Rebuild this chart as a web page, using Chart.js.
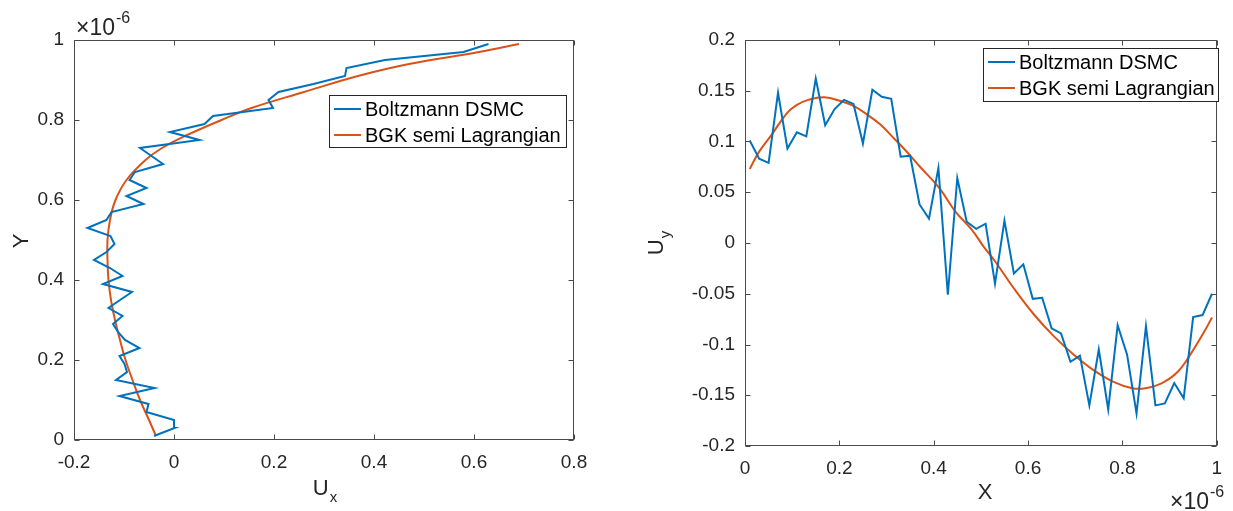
<!DOCTYPE html>
<html>
<head>
<meta charset="utf-8">
<script src="https://cdn.jsdelivr.net/npm/chart.js@4.4.1/dist/chart.umd.min.js"></script>
<style>
  body { margin: 0; background: #fff; }
  canvas { position: absolute; top: 0; }
</style>
</head>
<body>
<canvas id="left" width="616" height="511" style="left:0"></canvas>
<canvas id="right" width="617" height="511" style="left:616px"></canvas>
<script>
(function () {
    "use strict";

    const FONT = '"Liberation Sans", Arial, Helvetica, sans-serif';
    const INK = "#262626";
    const BLUE = "#0072BD";
    const RED = "#D95319";

    const seriesLabels = ["Boltzmann DSMC", "BGK semi Lagrangian"];

    // left panel: U_x against Y (Y in units of 1e-6)
    const leftY = [
        0.01, 0.03, 0.05, 0.07, 0.09, 0.11, 0.13, 0.15, 0.17, 0.19,
        0.21, 0.23, 0.25, 0.27, 0.29, 0.31, 0.33, 0.35, 0.37, 0.39,
        0.41, 0.43, 0.45, 0.47, 0.49, 0.51, 0.53, 0.55, 0.57, 0.59,
        0.61, 0.63, 0.65, 0.67, 0.69, 0.71, 0.73, 0.75, 0.77, 0.79,
        0.81, 0.83, 0.85, 0.87, 0.89, 0.91, 0.93, 0.95, 0.97, 0.99,
    ];
    const leftDsmcUx = [
        -0.040, 0.001, 0.000, -0.055, -0.051, -0.109, -0.039, -0.116, -0.094, -0.099,
        -0.109, -0.069, -0.098, -0.112, -0.122, -0.103, -0.131, -0.108, -0.084, -0.142,
        -0.103, -0.128, -0.160, -0.135, -0.119, -0.127, -0.173, -0.135, -0.125, -0.061,
        -0.095, -0.055, -0.089, -0.078, -0.022, -0.045, -0.068, 0.051, -0.008, 0.061,
        0.078, 0.198, 0.189, 0.209, 0.279, 0.342, 0.345, 0.422, 0.579, 0.629,
    ];
    const leftBgkY = [
        0.01, 0.05, 0.10, 0.15, 0.20, 0.25, 0.30, 0.35, 0.40, 0.45, 0.50, 0.55,
        0.60, 0.65, 0.70, 0.73, 0.76, 0.80, 0.83, 0.87, 0.91, 0.94, 0.97, 0.99,
    ];
    const leftBgkUx = [
        -0.036, -0.050, -0.068, -0.083, -0.097, -0.108, -0.118, -0.126, -0.131, -0.133, -0.133, -0.128,
        -0.117, -0.095, -0.057, -0.024, 0.022, 0.095, 0.155, 0.260, 0.368, 0.470, 0.610, 0.690,
    ];
    const leftXTicks = [-0.2, 0, 0.2, 0.4, 0.6, 0.8];
    const leftYTicks = [0, 0.2, 0.4, 0.6, 0.8, 1];

    // right panel: U_y against X (X in units of 1e-6)
    const rightX = leftY;
    const rightDsmcUy = [
        0.101, 0.083, 0.079, 0.148, 0.093, 0.109, 0.105, 0.162, 0.116, 0.132,
        0.141, 0.137, 0.098, 0.151, 0.144, 0.142, 0.085, 0.086, 0.038, 0.024,
        0.074, -0.051, 0.064, 0.021, 0.014, 0.019, -0.040, 0.022, -0.030, -0.021,
        -0.055, -0.054, -0.084, -0.089, -0.117, -0.111, -0.160, -0.105, -0.164, -0.081,
        -0.110, -0.168, -0.082, -0.160, -0.158, -0.138, -0.153, -0.073, -0.071, -0.050,
    ];
    const rightBgkX = [
        0.01, 0.03, 0.057, 0.089, 0.11, 0.134, 0.168, 0.204, 0.231, 0.259, 0.287,
        0.315, 0.342, 0.37, 0.412, 0.446, 0.481, 0.505, 0.53, 0.572, 0.613, 0.655,
        0.697, 0.738, 0.78, 0.821, 0.849, 0.884, 0.918, 0.946, 0.974, 0.99,
    ];
    const rightBgkUy = [
        0.073, 0.090, 0.107, 0.128, 0.136, 0.141, 0.1436, 0.1397, 0.1348, 0.1265, 0.1167,
        0.1035, 0.0904, 0.0756, 0.054, 0.031, 0.013, -0.003, -0.018, -0.046, -0.0707, -0.092,
        -0.110, -0.125, -0.1365, -0.143, -0.143, -0.138, -0.1266, -0.1085, -0.087, -0.0734,
    ];
    const rightXTicks = [0, 0.2, 0.4, 0.6, 0.8, 1];
    const rightYTicks = [-0.2, -0.15, -0.1, -0.05, 0, 0.05, 0.1, 0.15, 0.2];

    const pairs = (xs, ys) => xs.map((v, i) => ({ x: v, y: ys[i] }));
    const fmt = (v) => String(parseFloat(v.toFixed(2)));

    // MATLAB-like box, inward ticks, legend and labels
    const matlabAxes = {
        id: "matlabAxes",
        afterDraw(chart, args, o) {
            const { ctx, chartArea: a } = chart;
            const { x, y } = chart.scales;
            ctx.save();
            ctx.strokeStyle = "#4a4a4a";
            ctx.lineWidth = 1;
            const L = Math.round(a.left) + 0.5, R = Math.round(a.right) - 0.5;
            const T = Math.round(a.top) + 0.5, B = Math.round(a.bottom) - 0.5;
            ctx.strokeRect(L, T, R - L, B - T);
            const tl = 5;
            ctx.beginPath();
            x.ticks.forEach((t) => {
                const p = Math.round(x.getPixelForValue(t.value)) + 0.5;
                ctx.moveTo(p, B); ctx.lineTo(p, B - tl);
                ctx.moveTo(p, T); ctx.lineTo(p, T + tl);
            });
            y.ticks.forEach((t) => {
                const p = Math.round(y.getPixelForValue(t.value)) + 0.5;
                ctx.moveTo(L, p); ctx.lineTo(L + tl, p);
                ctx.moveTo(R, p); ctx.lineTo(R - tl, p);
            });
            ctx.stroke();

            // legend
            const lg = o.legend;
            ctx.fillStyle = "#fff";
            ctx.fillRect(lg.x, lg.y, lg.w, lg.h);
            ctx.strokeStyle = INK;
            ctx.strokeRect(lg.x + 0.5, lg.y + 0.5, lg.w, lg.h);
            ctx.font = "20px " + FONT;
            ctx.textBaseline = "middle";
            ctx.textAlign = "left";
            chart.data.datasets.forEach((ds, i) => {
                const cy = lg.y + lg.row0 + i * lg.rowGap;
                ctx.strokeStyle = ds.borderColor;
                ctx.lineWidth = 2;
                ctx.beginPath();
                ctx.moveTo(lg.x + 5, cy);
                ctx.lineTo(lg.x + 32, cy);
                ctx.stroke();
                ctx.fillStyle = "#000";
                ctx.fillText(ds.label, lg.x + 36, cy + 1);
            });

            // axis titles with subscripts
            ctx.fillStyle = INK;
            o.titles.forEach((t) => {
                ctx.save();
                ctx.translate(t.x, t.y);
                if (t.rotate) ctx.rotate(-Math.PI / 2);
                ctx.font = "22px " + FONT;
                ctx.textBaseline = "middle";
                const w1 = ctx.measureText(t.text).width;
                let w2 = 0;
                if (t.sub) {
                    ctx.font = "15px " + FONT;
                    w2 = ctx.measureText(t.sub).width + 1;
                }
                const x0 = -(w1 + w2) / 2;
                ctx.font = "22px " + FONT;
                ctx.textAlign = "left";
                ctx.fillText(t.text, x0, 0);
                if (t.sub) {
                    ctx.font = "15px " + FONT;
                    ctx.fillText(t.sub, x0 + w1 + 1, 9);
                }
                ctx.restore();
            });

            // exponent label
            const ex = o.exponent;
            ctx.textAlign = "left";
            ctx.textBaseline = "alphabetic";
            ctx.font = "23px " + FONT;
            ctx.fillText("\u00d710", ex.x, ex.y);
            const wb = ctx.measureText("\u00d710").width;
            ctx.font = "16px " + FONT;
            ctx.fillText("-6", ex.x + wb + 1, ex.y - 12);
            ctx.restore();
        },
    };

    function axis(min, max, ticks, size, isY) {
        return {
            type: "linear",
            min: min,
            max: max,
            afterBuildTicks: (s) => { s.ticks = ticks.map((v) => ({ value: v })); },
            afterFit: (s) => { if (isY) s.width = size; else s.height = size; },
            grid: { display: false, drawTicks: false },
            border: { display: false },
            ticks: {
                color: INK,
                padding: isY ? 10 : 11,
                font: { family: FONT, size: 19 },
                callback: (v) => fmt(v),
                maxRotation: 0,
            },
        };
    }

    function lineSet(label, data, color, tension) {
        return {
            label: label,
            data: data,
            showLine: true,
            borderColor: color,
            backgroundColor: color,
            borderWidth: 2,
            pointRadius: 0,
            tension: tension,
        };
    }

    new Chart(document.getElementById("left"), {
        type: "scatter",
        data: {
            datasets: [
                lineSet(seriesLabels[0], pairs(leftDsmcUx, leftY), BLUE, 0),
                lineSet(seriesLabels[1], pairs(leftBgkUx, leftBgkY), RED, 0.4),
            ],
        },
        options: {
            responsive: false,
            animation: false,
            layout: { padding: { left: 0, right: 42, top: 40, bottom: 0 } },
            scales: {
                x: axis(-0.2, 0.8, leftXTicks, 71, false),
                y: axis(0, 1, leftYTicks, 74, true),
            },
            plugins: {
                legend: { display: false },
                tooltip: { enabled: false },
                matlabAxes: {
                    legend: { x: 329, y: 95, w: 237, h: 52, row0: 14, rowGap: 26 },
                    titles: [
                        { text: "U", sub: "x", x: 325, y: 489 },
                        { text: "Y", x: 22, y: 241, rotate: true },
                    ],
                    exponent: { x: 76, y: 35 },
                },
            },
        },
        plugins: [matlabAxes],
    });

    new Chart(document.getElementById("right"), {
        type: "scatter",
        data: {
            datasets: [
                lineSet(seriesLabels[0], pairs(rightX, rightDsmcUy), BLUE, 0),
                lineSet(seriesLabels[1], pairs(rightBgkX, rightBgkUy), RED, 0.4),
            ],
        },
        options: {
            responsive: false,
            animation: false,
            layout: { padding: { left: 0, right: 6, top: 40, bottom: 0 } },
            scales: {
                x: axis(0, 1, rightXTicks, 65, false),
                y: axis(-0.2, 0.2, rightYTicks, 129, true),
            },
            plugins: {
                legend: { display: false },
                tooltip: { enabled: false },
                matlabAxes: {
                    legend: { x: 367, y: 48, w: 235, h: 53, row0: 14, rowGap: 26 },
                    titles: [
                        { text: "U", sub: "y", x: 41, y: 243, rotate: true },
                        { text: "X", x: 369, y: 493 },
                    ],
                    exponent: { x: 554, y: 509 },
                },
            },
        },
        plugins: [matlabAxes],
    });
})();
</script>
</body>
</html>
